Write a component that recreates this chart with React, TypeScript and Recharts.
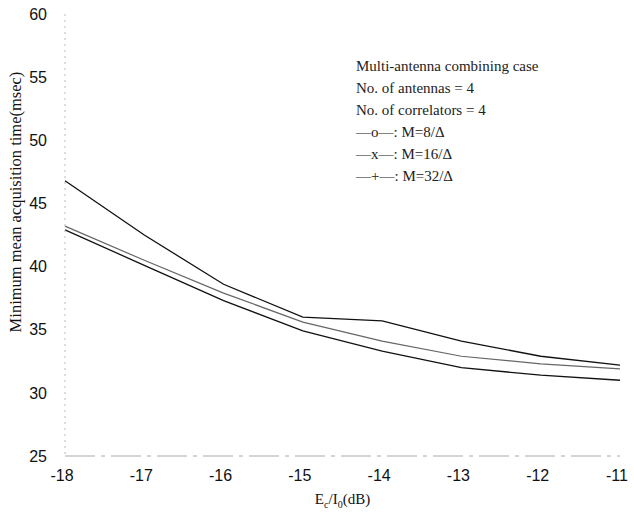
import React from "react";
import { Line, LineChart, XAxis, YAxis } from "recharts";

const xValues = [-18, -17, -16, -15, -14, -13, -12, -11];
const m8 = [42.9, 40.1, 37.3, 34.9, 33.3, 32.0, 31.4, 31.0];
const m16 = [43.2, 40.5, 37.9, 35.6, 34.1, 32.9, 32.3, 31.9];
const m32 = [46.8, 42.5, 38.6, 36.0, 35.7, 34.1, 32.9, 32.2];
const yTicks = [25, 30, 35, 40, 45, 50, 55, 60];

const headerLines = [
  "Multi-antenna combining case",
  "No. of antennas = 4",
  "No. of correlators = 4",
];
const seriesLabels = ["\u2014o\u2014: M=8/\u0394", "\u2014x\u2014: M=16/\u0394", "\u2014+\u2014: M=32/\u0394"];

const data = xValues.map((x, i) => ({ x, m8: m8[i], m16: m16[i], m32: m32[i] }));

const serif = "'Liberation Serif', 'DejaVu Serif', serif";
const sans = "'Liberation Sans', Arial, sans-serif";

// E_c/I_0(dB) with subscripts
function XLabel(props: any) {
  const vb = props.viewBox || {};
  const cx = vb.x + vb.width / 2;
  const y = vb.y + vb.height - 8;
  return (
    <text x={cx} y={y} textAnchor="middle" fontFamily={serif} fontSize={15} fill="#111">
      <tspan>E</tspan>
      <tspan fontSize={10} dy={4}>c</tspan>
      <tspan dy={-4}>/I</tspan>
      <tspan fontSize={10} dy={4}>0</tspan>
      <tspan dy={-4}>(dB)</tspan>
    </text>
  );
}

function YLabel() {
  const x = 21;
  const cy = 202;
  return (
    <text
      x={x}
      y={cy}
      transform={`rotate(-90 ${x} ${cy})`}
      textAnchor="middle"
      fontFamily={serif}
      fontSize={16.5}
      fill="#111"
    >
      Minimum mean acquisition time(msec)
    </text>
  );
}

export default function App() {
  return (
    <div style={{ position: "relative", width: 634, height: 512, background: "#fff" }}>
      <style>{`body{margin:0}`}</style>
      <LineChart width={634} height={512} data={data} margin={{ top: 14, right: 14, bottom: 0, left: 0 }}>
        <XAxis
          dataKey="x"
          type="number"
          domain={[-18, -11]}
          ticks={xValues}
          height={56}
          stroke="#aaa"
          strokeDasharray="30 6 4 6"
          tickLine={false}
          tickMargin={8}
          tick={{ fontFamily: sans, fontSize: 16, fill: "#111", dx: -3 }}
          label={<XLabel />}
        />
        <YAxis
          domain={[25, 60]}
          ticks={yTicks}
          width={65}
          stroke="#bbb"
          strokeDasharray="2 4"
          tickLine={false}
          tickMargin={12}
          tick={{ fontFamily: sans, fontSize: 16, fill: "#111" }}
          label={<YLabel />}
        />
        <YAxis
          yAxisId="right"
          orientation="right"
          domain={[25, 60]}
          ticks={yTicks}
          width={0}
          stroke="#ccc"
          strokeDasharray="2 6"
          tick={false}
        />
        <Line type="linear" dataKey="m8" stroke="#111" strokeWidth={1.3} dot={false} isAnimationActive={false} />
        <Line type="linear" dataKey="m16" stroke="#666" strokeWidth={1.2} dot={false} isAnimationActive={false} />
        <Line type="linear" dataKey="m32" stroke="#111" strokeWidth={1.3} dot={false} isAnimationActive={false} />
      </LineChart>
      <div
        style={{
          position: "absolute",
          top: 55,
          left: 356,
          fontFamily: serif,
          fontSize: 15,
          lineHeight: "22px",
          color: "#222",
        }}
      >
        {[...headerLines, ...seriesLabels].map((t) => (
          <div key={t}>{t}</div>
        ))}
      </div>
    </div>
  );
}
